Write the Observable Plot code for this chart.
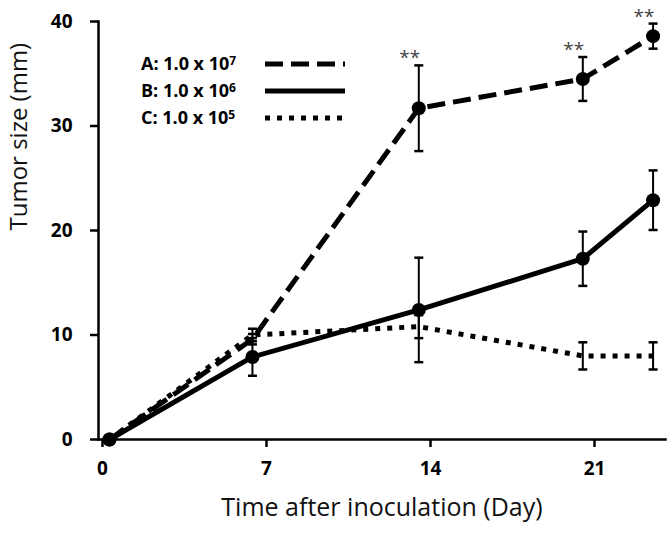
<!DOCTYPE html>
<html>
<head>
<meta charset="utf-8">
<script src="https://cdn.jsdelivr.net/npm/d3@7"></script>
<script src="https://cdn.jsdelivr.net/npm/@observablehq/plot@0.6"></script>
<style>
  html, body { margin: 0; padding: 0; background: #fff; }
  #chart { width: 672px; height: 533px; }
</style>
</head>
<body>
<div id="chart"></div>
<script>
// ---- data ----
const days = [0.3, 6.4, 13.5, 20.5, 23.5];
const xTicks = [0, 7, 14, 21];
const yTicks = [0, 10, 20, 30, 40];
const seriesKeys = ["A", "B", "C"];
const seriesLabels = ["A: 1.0 x 10", "B: 1.0 x 10", "C: 1.0 x 10"];
const seriesExp = ["7", "6", "5"];
const aMean = [0, 9.6, 31.7, 34.5, 38.6];
const aErr  = [0, 0.5, 4.1, 2.1, 1.2];
const bMean = [0, 7.9, 12.4, 17.3, 22.9];
const bErr  = [0, 1.8, 5.0, 2.6, 2.85];
const cMean = [0, 10.0, 10.8, 8.0, 8.0];
const cErr  = [0, 0.6, 1.1, 1.3, 1.3];
const aMarker = [true, false, true, true, true];
const bMarker = [true, true, true, true, true];
const cMarker = [false, false, false, false, false];
const signif = ["", "", "**", "**", "**"]; // for series A

const means = {A: aMean, B: bMean, C: cMean};
const errs = {A: aErr, B: bErr, C: cErr};
const markers = {A: aMarker, B: bMarker, C: cMarker};
const rows = [];
for (const s of seriesKeys) {
  days.forEach((d, i) => rows.push({s, day: d, v: means[s][i], e: errs[s][i], m: markers[s][i], sig: s === "A" ? signif[i] : ""}));
}
const ofS = s => rows.filter(r => r.s === s);
const withErr = rows.filter(r => r.e > 0);
const sigRows = rows.filter(r => r.sig);

const capSymbol = {
  draw(ctx, size) {
    const w = Math.sqrt(size / Math.PI);
    ctx.moveTo(-w, 0);
    ctx.lineTo(w, 0);
  }
};

const dashA = "18,8";
const dashC = "5,7";
const lw = 5;
const font = "'Open Sans', sans-serif";

const chart = Plot.plot({
  width: 672,
  height: 533,
  marginLeft: 98,
  marginRight: 7,
  marginTop: 21,
  marginBottom: 94,
  style: {fontFamily: font, background: "#fff", color: "#000"},
  x: {domain: [-0.17, 24.03]},
  y: {domain: [0, 40]},
  marks: [
    // error bars
    Plot.ruleX(withErr, {x: "day", y1: d => d.v - d.e, y2: d => d.v + d.e, stroke: "#000", strokeWidth: 2}),
    Plot.dot(withErr, {x: "day", y: d => d.v + d.e, symbol: capSymbol, r: 4.5, stroke: "#000", strokeWidth: 2.5, fill: "none"}),
    Plot.dot(withErr, {x: "day", y: d => d.v - d.e, symbol: capSymbol, r: 4.5, stroke: "#000", strokeWidth: 2.5, fill: "none"}),
    // lines
    Plot.line(ofS("C"), {x: "day", y: "v", stroke: "#000", strokeWidth: lw, strokeDasharray: dashC, strokeLinecap: "butt"}),
    Plot.line(ofS("B"), {x: "day", y: "v", stroke: "#000", strokeWidth: lw}),
    Plot.line(ofS("A"), {x: "day", y: "v", stroke: "#000", strokeWidth: lw, strokeDasharray: dashA, strokeLinecap: "butt"}),
    // markers
    Plot.dot(rows.filter(r => r.m), {x: "day", y: "v", r: 7, fill: "#000"}),
    // significance
    Plot.text(sigRows, {x: "day", y: d => d.v + d.e, text: "sig", dx: -9, dy: -7, fill: "#444", fontSize: 19}),
    // axes
    Plot.frame({anchor: "left", stroke: "#000", strokeWidth: 2.5}),
    Plot.frame({anchor: "bottom", stroke: "#000", strokeWidth: 2.5}),
    Plot.axisY({ticks: yTicks, tickSize: 8, tickPadding: 18, strokeWidth: 2.5, fontSize: 19, fontWeight: "bold", label: null}),
    Plot.axisX({ticks: xTicks, tickSize: 8, tickPadding: 14, strokeWidth: 2.5, fontSize: 19, fontWeight: "bold", label: null}),
    Plot.text(["Time after inoculation (Day)"], {frameAnchor: "bottom", dy: 76, text: d => d, fontSize: 25, fill: "#111"}),
    Plot.text(["Tumor size (mm)"], {frameAnchor: "left", dx: -79, rotate: -90, text: d => d, fontSize: 24, fill: "#111"})
  ]
});

document.getElementById("chart").appendChild(chart);

// in-plot legend
const svg = d3.select(chart.tagName.toLowerCase() === "svg" ? chart : chart.querySelector("svg"));
const lg = svg.append("g").attr("font-family", font).attr("text-anchor", "start");
const rowsY = [64, 91, 118];
const dashes = [dashA, null, dashC];
seriesKeys.forEach((s, i) => {
  const t = lg.append("text")
    .attr("x", 141).attr("y", rowsY[i]).attr("dy", "0.35em")
    .attr("font-size", 18).attr("font-weight", "bold").attr("fill", "#000")
    .text(seriesLabels[i]);
  t.append("tspan").attr("dy", "-0.45em").attr("font-size", 12).text(seriesExp[i]);
  const ln = lg.append("line")
    .attr("x1", 265).attr("x2", 345).attr("y1", rowsY[i]).attr("y2", rowsY[i])
    .attr("stroke", "#000").attr("stroke-width", lw);
  if (dashes[i]) ln.attr("stroke-dasharray", dashes[i]);
});
</script>
</body>
</html>
